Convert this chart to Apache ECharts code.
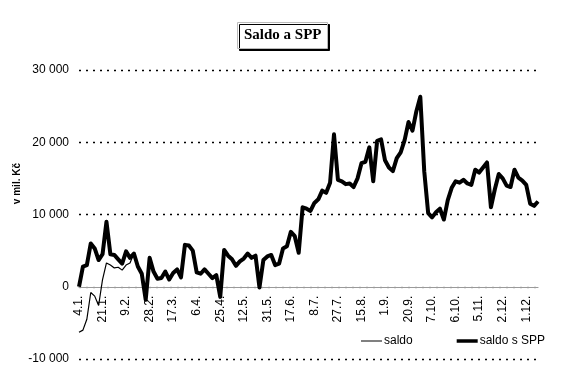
<!DOCTYPE html>
<html>
<head>
<meta charset="utf-8">
<script src="https://cdn.jsdelivr.net/npm/echarts@6.0.0/dist/echarts.min.js"></script>
<style>
  html, body { margin: 0; padding: 0; background: #fff; }
  #chartDiv { width: 563px; height: 377px; }
</style>
</head>
<body>
<div id="chartDiv"></div>
<script>
// popisky osy x (kazdy 6. bod)
let tickLabels = ["4.1.", "21.1.", "9.2.", "28.2.", "17.3.", "6.4.", "25.4.", "12.5.", "31.5.", "17.6.",
    "8.7.", "27.7.", "15.8.", "1.9.", "20.9.", "7.10.", "6.10.", "5.11.", "2.12.", "1.12."];
let pointsPerTick = 6;

// saldo s SPP (mil. Kc)
let saldoSpp = [
    0, 2800, 3000, 6000, 5300, 3700, 4500, 9000, 4500, 4400,
    3800, 3200, 4900, 4000, 4600, 2800, 1800, -1800, 4000, 2100,
    1100, 1200, 2100, 1000, 1900, 2400, 1300, 5800, 5700, 5000,
    2000, 1800, 2400, 1800, 1200, 1600, -1400, 5100, 4300, 3800,
    2900, 3500, 3900, 4600, 4000, 4300, -100, 3700, 4200, 4400,
    3000, 3200, 5300, 5600, 7600, 7000, 4700, 11000, 10800, 10500,
    11600, 12100, 13300, 13000, 14400, 21100, 14800, 14600, 14200, 14300,
    13800, 15000, 17100, 17300, 19300, 14600, 20200, 20400, 17500, 16500,
    16000, 17800, 18600, 20300, 22800, 21600, 24300, 26300, 16000, 10200,
    9600, 10300, 10800, 9300, 12000, 13700, 14600, 14400, 14800, 14300,
    14100, 16200, 15800, 16500, 17200, 11000, 13500, 15600, 15000, 14000,
    13800, 16200, 15100, 14700, 14100, 11500, 11200, 11800
];

// saldo - lisi se jen na zacatku roku
let saldoStart = [-6300, -6000, -4500, -800, -1300, -2600, 1000, 3300, 3000, 2600, 2700, 2300, 3000, 3300];

let yTicks = [-10000, 0, 10000, 20000, 30000];

let categories = [];
for (let i = 0; i < saldoSpp.length; i++) {
    categories.push(i % pointsPerTick === 0 ? (tickLabels[i / pointsPerTick] || "") : "");
}
let saldo = saldoSpp.slice();
for (let i = 0; i < saldoStart.length; i++) {
    saldo[i] = saldoStart[i];
}

let gridTop = 70;
let gridBottom = 18;
let chartHeight = 377;
// posun osy x na nulu (osa je jinak dole u -10 000)
let plotHeight = chartHeight - gridTop - gridBottom;
let zeroOffset = -plotHeight * (0 - yTicks[0]) / (yTicks[yTicks.length - 1] - yTicks[0]);

let chart = echarts.init(document.getElementById("chartDiv"), null, { renderer: "canvas" });

chart.setOption({
    animation: false,
    backgroundColor: "#fff",
    textStyle: { fontFamily: "Liberation Sans, Arial, sans-serif", color: "#000" },
    title: {
        text: "Saldo a SPP",
        left: 237,
        top: 22,
        padding: [6, 6, 6, 7],
        backgroundColor: "#fff",
        borderColor: "#bbb",
        borderWidth: 1,
        shadowColor: "#000",
        shadowBlur: 0,
        shadowOffsetX: 2,
        shadowOffsetY: 2,
        textStyle: {
            fontFamily: "Liberation Serif, Times New Roman, serif",
            fontWeight: "bold",
            fontSize: 15,
            color: "#000",
        },
    },
    graphic: [
        {
            type: "text",
            left: 12,
            top: 163,
            rotation: Math.PI / 2,
            style: {
                text: "v mil. Kč",
                font: "bold 10px Liberation Sans, Arial, sans-serif",
                fill: "#000",
            },
        },
    ],
    legend: {
        left: 356,
        top: 330,
        itemWidth: 21,
        itemHeight: 10,
        itemGap: 44,
        textStyle: { fontSize: 12, color: "#000", padding: [0, 0, 0, -3] },
        data: [
            { name: "saldo", icon: "path://M0,0H21V1H0Z" },
            { name: "saldo s SPP", icon: "path://M0,0H24V4H0Z" },
        ],
    },
    grid: {
        left: 79,
        right: 25,
        top: gridTop,
        bottom: gridBottom,
        containLabel: false,
        outerBoundsMode: "none",
    },
    xAxis: {
        type: "category",
        data: categories,
        boundaryGap: false,
        offset: zeroOffset,
        axisLine: { onZero: false, lineStyle: { color: "#9a9a9a", width: 1.2 } },
        axisTick: { show: false },
        axisLabel: {
            interval: pointsPerTick - 1,
            rotate: 90,
            margin: 9,
            fontSize: 12,
            color: "#000",
        },
        splitLine: { show: false },
    },
    yAxis: {
        type: "value",
        min: yTicks[0],
        max: yTicks[yTicks.length - 1],
        interval: 10000,
        axisLine: { show: false },
        axisTick: { show: false },
        axisLabel: {
            margin: 10,
            fontSize: 12,
            color: "#000",
            formatter: function (v) {
                return String(v).replace(/\B(?=(\d{3})+(?!\d))/g, " ");
            },
        },
        splitLine: {
            lineStyle: {
                color: ["#000", "#aaa", "#000", "#000", "#000"],
                width: 1.3,
                type: [2, 5],
            },
        },
    },
    series: [
        {
            name: "saldo",
            type: "line",
            data: saldo,
            symbol: "none",
            lineStyle: { color: "#000", width: 1.2 },
            itemStyle: { color: "#000" },
            z: 3,
        },
        {
            name: "saldo s SPP",
            type: "line",
            data: saldoSpp,
            symbol: "none",
            lineStyle: { color: "#000", width: 4, join: "round" },
            itemStyle: { color: "#000" },
            z: 2,
        },
    ],
});
</script>
</body>
</html>
